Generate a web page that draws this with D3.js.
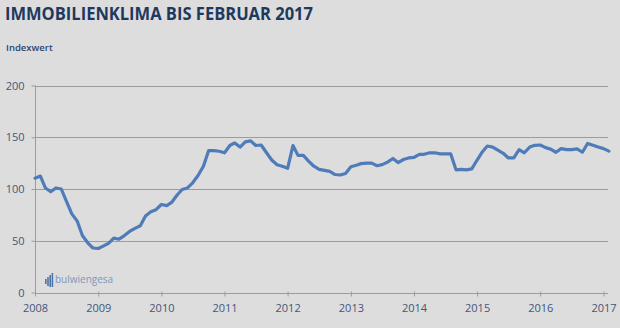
<!DOCTYPE html>
<html><head><meta charset="utf-8">
<script src="https://cdn.jsdelivr.net/npm/d3@7"></script>
<style>
html,body{margin:0;padding:0;background:#dddddd;}
svg{display:block;}
</style></head>
<body>
<svg id="c" width="620" height="328"></svg>
<script>
// Monthly index values Jan 2008 – Feb 2017
const startYear = 2008;
const values2008 = [110.5, 112.5, 101, 97.5, 101, 100, 88, 76, 69, 55, 48, 43];
const values2009 = [42.5, 45, 47.5, 52.5, 51.5, 55, 59, 62, 64.5, 74, 78, 80];
const values2010 = [85, 84, 87, 94, 99.5, 101, 106, 113, 122, 137, 137, 136.5];
const values2011 = [135, 142, 144.5, 140.5, 145.5, 146.5, 142, 142.5, 135, 128, 123.5, 122];
const values2012 = [120, 142, 132.5, 132.5, 127, 122, 119, 118, 117, 114, 113.5, 115];
const values2013 = [121.5, 123, 124.5, 125, 125, 122.5, 123.5, 126, 129.5, 125.5, 128.5, 130];
const values2014 = [130.5, 133.5, 133.5, 135, 135, 134, 134, 134, 118.5, 119, 118.5, 119.5];
const values2015 = [128, 136, 141.5, 140.5, 137.5, 134.5, 130, 130, 138, 135, 140.5, 142.2];
const values2016 = [142.5, 140, 138.5, 135.5, 139, 138, 138, 138.8, 135.5, 144, 142.3, 140.5];
const values2017 = [139, 136.6];
const yTicks = [0, 50, 100, 150, 200];
const xTickYears = [2008, 2009, 2010, 2011, 2012, 2013, 2014, 2015, 2016, 2017];
const title = "IMMOBILIENKLIMA BIS FEBRUAR 2017";
const yLabel = "Indexwert";
const logoText = "bulwiengesa";

const allValues = [].concat(values2008, values2009, values2010, values2011, values2012,
  values2013, values2014, values2015, values2016, values2017);
const data = allValues.map((v, i) => ({date: new Date(startYear + Math.floor(i / 12), i % 12, 1), v}));

const svg = d3.select("#c");
const left = 35, right = 608;
const x = d3.scaleTime().domain([new Date(2008, 0, 1), new Date(2017, 0, 1)]).range([35, 603.5]);
const y = d3.scaleLinear().domain([0, 200]).range([292.5, 85.5]);

const font = "'Open Sans', sans-serif";
const navy = "#1d3960";
const tickCol = "#44567a";

// title
svg.append("text").attr("x", 5).attr("y", 20).text(title)
  .attr("font-family", font).attr("font-weight", 700).attr("font-size", 18)
  .attr("fill", navy).attr("textLength", 308).attr("lengthAdjust", "spacingAndGlyphs");
svg.append("text").attr("x", 6).attr("y", 51).text(yLabel)
  .attr("font-family", font).attr("font-weight", 600).attr("font-size", 9.5)
  .attr("fill", "#2c4670");

// gridlines
svg.append("g").selectAll("line").data(yTicks.filter(d => d > 0)).join("line")
  .attr("x1", left).attr("x2", right)
  .attr("y1", d => Math.round(y(d)) + 0.5).attr("y2", d => Math.round(y(d)) + 0.5)
  .attr("stroke", "#9c9c9c").attr("stroke-width", 1);

// y axis
const yAxis = svg.append("g").attr("transform", `translate(${left + 0.5},0)`)
  .call(d3.axisLeft(y).tickValues(yTicks).tickSize(4).tickPadding(7));
yAxis.select(".domain").attr("stroke", "#9c9c9c").attr("d", `M0,${y(200)}V${y(0)}`);
yAxis.selectAll(".tick line").attr("stroke", "#9c9c9c");
yAxis.selectAll("text").attr("font-family", font).attr("font-size", 11).attr("fill", tickCol);

// x axis
const xAxis = svg.append("g").attr("transform", `translate(0,${Math.round(y(0)) + 0.5})`)
  .call(d3.axisBottom(x).tickValues(xTickYears.map(yr => new Date(yr, 0, 1)))
    .tickFormat(d3.timeFormat("%Y")).tickSize(3).tickPadding(8));
xAxis.select(".domain").attr("stroke", "#9c9c9c").attr("d", `M${left},0H${right}`);
xAxis.selectAll(".tick line").attr("stroke", "#9c9c9c").attr("y1", -2);
xAxis.selectAll("text").attr("font-family", font).attr("font-size", 11).attr("fill", tickCol);

// logo
const logo = svg.append("g").attr("transform", "translate(45,273)");
[[0, 6, 5], [2.2, 4, 9], [4.4, 2, 12], [6.6, 0, 14]].forEach(([bx, by, bh]) => {
  logo.append("rect").attr("x", bx).attr("y", by).attr("width", 1.6).attr("height", bh).attr("fill", "#4f74a6");
});
logo.append("text").attr("x", 10).attr("y", 10).text(logoText)
  .attr("font-family", font).attr("font-size", 10).attr("fill", "#7f97ba");

// line
const line = d3.line().x(d => x(d.date)).y(d => y(d.v)).curve(d3.curveLinear);
svg.append("path").datum(data).attr("d", line)
  .attr("fill", "none").attr("stroke", "#4f7cb9").attr("stroke-width", 3.2)
  .attr("stroke-linejoin", "round").attr("stroke-linecap", "round");
</script>
</body></html>
